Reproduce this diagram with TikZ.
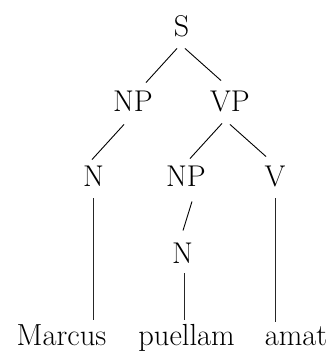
\documentclass[tikz,border=0pt]{standalone}
\usepackage{fontspec}
\usepackage{tikz}
\usetikzlibrary{positioning}

\begin{document}
\begin{tikzpicture}[
    x=1pt, y=-1pt,
    cat/.style={inner sep=0pt, text height=20.5pt, text depth=0pt, font=\fontsize{30}{36}\selectfont},
    word/.style={inner sep=0pt, anchor=base, font=\fontsize{30.5}{36}\selectfont},
    branch/.style={line width=0.9pt},
    leaf/.style={line width=0.5pt, black!85}
]
    \useasboundingbox (0,0) rectangle (333,352);

    \node[cat] (s) at (181.5,26) {S};

    \node[cat] (np) at (133,101) {NP};
    \node[cat] (vp) at (230,101) {VP};

    \node[cat] (n) at (93.5,176) {N};
    \node[cat] (npobj) at (186,176) {NP};
    \node[cat] (v) at (275,176) {V};

    \node[cat] (nobj) at (182.5,253) {N};

    \node[word] (marcus) at (61.5,345) {Marcus};
    \node[word] (puellam) at (186.5,345) {puellam};
    \node[word] (amat) at (296,345) {amat};

    \draw[branch] ([xshift=-4.5pt, yshift=-12pt]s.south) -- ([xshift=13pt, yshift=8pt]np.north);
    \draw[branch] ([xshift=3.5pt, yshift=-12pt]s.south) -- ([xshift=-9pt, yshift=10pt]vp.north);
    \draw[branch] ([xshift=-9pt, yshift=-13pt]np.south) -- ([xshift=-1.5pt, yshift=6pt]n.north);
    \draw[branch] ([xshift=-8pt, yshift=-12pt]vp.south) -- ([xshift=4pt, yshift=7pt]npobj.north);
    \draw[branch] ([yshift=-13pt]vp.south) -- ([xshift=-9pt, yshift=9pt]v.north);
    \draw[branch] ([xshift=6pt, yshift=-15pt]npobj.south) -- ([xshift=0.5pt, yshift=12pt]nobj.north);

    \draw[leaf] ([yshift=-12pt]n.south) -- ([yshift=4pt]n.south |- marcus.north);
    \draw[leaf] ([xshift=1.5pt, yshift=-10pt]nobj.south) -- ([xshift=1.5pt, yshift=4pt]nobj.south |- puellam.north);
    \draw[leaf] ([yshift=-12pt]v.south) -- ([yshift=4pt]v.south |- amat.north);
\end{tikzpicture}
\end{document}
